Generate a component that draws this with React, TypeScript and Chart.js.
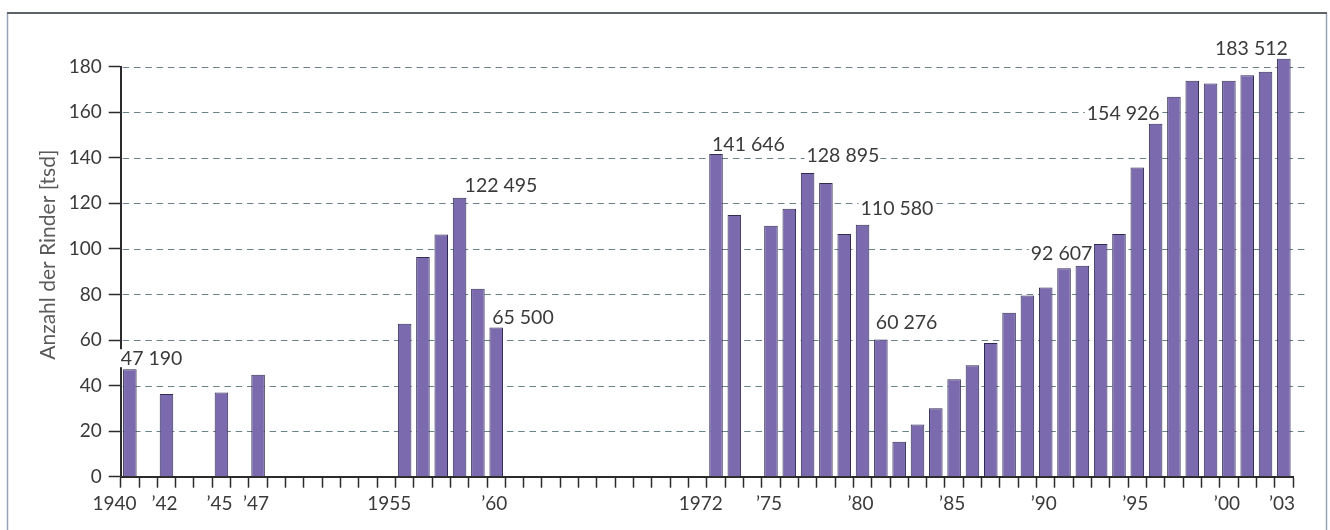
import React, { useEffect, useRef } from 'react';
import { Chart, registerables } from 'chart.js';

Chart.register(...registerables);

// Census years on the category axis (every year 1940–2003, gaps stay empty)
const years = [
  1940, 1941, 1942, 1943, 1944, 1945, 1946, 1947, 1948, 1949,
  1950, 1951, 1952, 1953, 1954, 1955, 1956, 1957, 1958, 1959,
  1960, 1961, 1962, 1963, 1964, 1965, 1966, 1967, 1968, 1969,
  1970, 1971, 1972, 1973, 1974, 1975, 1976, 1977, 1978, 1979,
  1980, 1981, 1982, 1983, 1984, 1985, 1986, 1987, 1988, 1989,
  1990, 1991, 1992, 1993, 1994, 1995, 1996, 1997, 1998, 1999,
  2000, 2001, 2002, 2003,
];

// Number of cattle in thousands (null = no count for that year)
const herd: (number | null)[] = [
  47.19, null, 36.3, null, null, 37.0, null, 44.8, null, null,
  null, null, null, null, null, 67.2, 96.4, 106.3, 122.495, 82.5,
  65.5, null, null, null, null, null, null, null, null, null,
  null, null, 141.646, 114.9, null, 110.2, 117.6, 133.3, 128.895, 106.6,
  110.58, 60.276, 15.3, 22.9, 30.0, 42.8, 48.9, 58.7, 72.0, 79.6,
  83.1, 91.5, 92.607, 102.2, 106.6, 135.8, 154.926, 166.8, 173.8, 172.6,
  173.8, 176.3, 177.8, 183.512,
];

// Years that carry an axis label, and the label text
const tickYears = [1940, 1942, 1945, 1947, 1955, 1960, 1972, 1975, 1980, 1985, 1990, 1995, 2000, 2003];
const tickLabels = ['1940', '’42', '’45', '’47', '1955', '’60', '1972', '’75', '’80', '’85', '’90', '’95', '’00', '’03'];

// Years whose exact count is written next to the bar
const calloutYears = [1940, 1958, 1960, 1972, 1978, 1980, 1981, 1992, 1996, 2003];

const yTitle = 'Anzahl der Rinder [tsd]';

const FONT = 'Lato, "Liberation Sans", sans-serif';
const TEXT = '#3a3a3a';

// placement of each callout relative to its bar (align, dx from bar centre, dy from bar top)
const calloutPlacement: Record<number, [CanvasTextAlign, number, number]> = {
  1940: ['left', -9, -11],
  1958: ['left', 5, -13],
  1960: ['left', -4, -11],
  1972: ['left', -4, -10],
  1978: ['center', 17, -28],
  1980: ['left', -2, -17],
  1981: ['left', -5, -18],
  1992: ['right', 10, -13],
  1996: ['right', 4, -11],
  2003: ['right', 4, -11],
};

const formatThousands = (v: number) =>
  Math.round(v * 1000).toString().replace(/\B(?=(\d{3})+(?!\d))/g, ' ');

const framePlugin = {
  id: 'frame',
  beforeDraw(chart: any) {
    const { ctx, width, height } = chart;
    ctx.save();
    ctx.fillStyle = '#ffffff';
    ctx.fillRect(0, 0, width, height);
    ctx.strokeStyle = '#97a2b2';
    ctx.lineWidth = 1.5;
    ctx.beginPath();
    ctx.moveTo(7.5, 13);
    ctx.lineTo(7.5, height);
    ctx.moveTo(1326.5, 13);
    ctx.lineTo(1326.5, height);
    ctx.stroke();
    ctx.strokeStyle = '#5d6168';
    ctx.lineWidth = 2;
    ctx.beginPath();
    ctx.moveTo(7, 13);
    ctx.lineTo(1327, 13);
    ctx.stroke();
    ctx.restore();
  },
};

const gridPlugin = {
  id: 'dashedGrid',
  beforeDatasetsDraw(chart: any) {
    const { ctx, chartArea } = chart;
    const y = chart.scales.y;
    ctx.save();
    ctx.strokeStyle = '#6a8388';
    ctx.lineWidth = 1.2;
    ctx.setLineDash([6.5, 4.8]);
    ctx.beginPath();
    for (const t of y.ticks) {
      if (t.value === 0) continue;
      const py = Math.round(y.getPixelForValue(t.value)) + 0.5;
      ctx.moveTo(chartArea.left + 2, py);
      ctx.lineTo(chartArea.right + 13, py);
    }
    ctx.stroke();
    ctx.restore();
  },
};

const calloutPlugin = {
  id: 'callouts',
  afterDatasetsDraw(chart: any) {
    const { ctx } = chart;
    const meta = chart.getDatasetMeta(0);
    ctx.save();
    ctx.font = `19.5px ${FONT}`;
    ctx.textBaseline = 'middle';
    for (const yr of calloutYears) {
      const i = years.indexOf(yr);
      const v = herd[i];
      const bar = meta.data[i];
      if (v == null || !bar) continue;
      const [align, dx, dy] = calloutPlacement[yr];
      const text = formatThousands(v);
      const w = ctx.measureText(text).width;
      const ax = bar.x + dx;
      const cy = bar.y + dy;
      const left = align === 'left' ? ax : align === 'right' ? ax - w : ax - w / 2;
      ctx.fillStyle = '#ffffff';
      ctx.fillRect(left - 2, cy - 9, w + 3, 18);
      ctx.fillStyle = TEXT;
      ctx.textAlign = 'left';
      ctx.fillText(text, left, cy + 1);
    }
    ctx.restore();
  },
};

const axisTextPlugin = {
  id: 'axisText',
  afterDraw(chart: any) {
    const { ctx, chartArea } = chart;
    const x = chart.scales.x;
    const meta = chart.getDatasetMeta(0);
    ctx.save();
    ctx.font = `19px ${FONT}`;
    ctx.fillStyle = TEXT;
    ctx.textBaseline = 'middle';
    const ly = chartArea.bottom + 27;
    tickYears.forEach((yr, k) => {
      const i = years.indexOf(yr);
      const px = x.getPixelForValue(i);
      const half = meta.data[i] ? meta.data[i].width / 2 : 7;
      const label = tickLabels[k];
      if (label.length === 4) {
        ctx.textAlign = 'right';
        ctx.fillText(label, px + half, ly);
      } else if (k === tickLabels.length - 1) {
        ctx.textAlign = 'right';
        ctx.fillText(label, chartArea.right + 2, ly);
      } else {
        ctx.textAlign = 'center';
        ctx.fillText(label, px - 2, ly);
      }
    });

    // rotated axis title
    ctx.translate(chartArea.left - 72, (chartArea.top + chartArea.bottom) / 2 - 17);
    ctx.rotate(-Math.PI / 2);
    ctx.font = `21px ${FONT}`;
    ctx.fillStyle = '#5a5a5a';
    ctx.textAlign = 'center';
    ctx.fillText(yTitle, 0, 0);
    ctx.restore();
  },
};

export default function App() {
  const canvasRef = useRef<HTMLCanvasElement>(null);

  useEffect(() => {
    const canvas = canvasRef.current;
    if (!canvas) return;
    const chart = new Chart(canvas, {
      type: 'bar',
      data: {
        labels: years.map(String),
        datasets: [
          {
            data: herd as any,
            backgroundColor: '#7c6aae',
            borderColor: '#2f2b52',
            borderWidth: 1,
            barPercentage: 0.74,
            categoryPercentage: 1,
            clip: false as any,
          },
        ],
      },
      options: {
        responsive: false,
        animation: false,
        events: [],
        layout: { padding: { top: 66.7, right: 37, bottom: 0, left: 0 } },
        plugins: {
          legend: { display: false },
          tooltip: { enabled: false },
        },
        scales: {
          x: {
            type: 'category',
            offset: true,
            afterFit(scale: any) {
              scale.height = 53.3;
            },
            grid: {
              offset: true,
              drawOnChartArea: false,
              drawTicks: true,
              tickLength: 11,
              tickColor: '#2b2b2b',
              tickWidth: 1.5,
              color: '#2b2b2b',
            },
            border: { display: true, color: '#2b2b2b', width: 2 },
            ticks: { display: false, autoSkip: false },
          },
          y: {
            min: 0,
            max: 180,
            afterFit(scale: any) {
              scale.width = 120.7;
            },
            grid: {
              drawOnChartArea: false,
              drawTicks: true,
              tickLength: 12,
              tickColor: '#2b2b2b',
              tickWidth: 1.5,
              color: '#2b2b2b',
            },
            border: { display: true, color: '#2b2b2b', width: 2 },
            ticks: {
              stepSize: 20,
              padding: 7,
              color: TEXT,
              font: { family: FONT, size: 19 },
            },
          },
        },
      },
      plugins: [framePlugin, gridPlugin, calloutPlugin, axisTextPlugin],
    });
    return () => chart.destroy();
  }, []);

  return (
    <div style={{ position: 'fixed', left: 0, top: 0, width: 1330, height: 530, background: '#fff' }}>
      <canvas ref={canvasRef} width={1330} height={530} style={{ display: 'block' }} />
    </div>
  );
}
